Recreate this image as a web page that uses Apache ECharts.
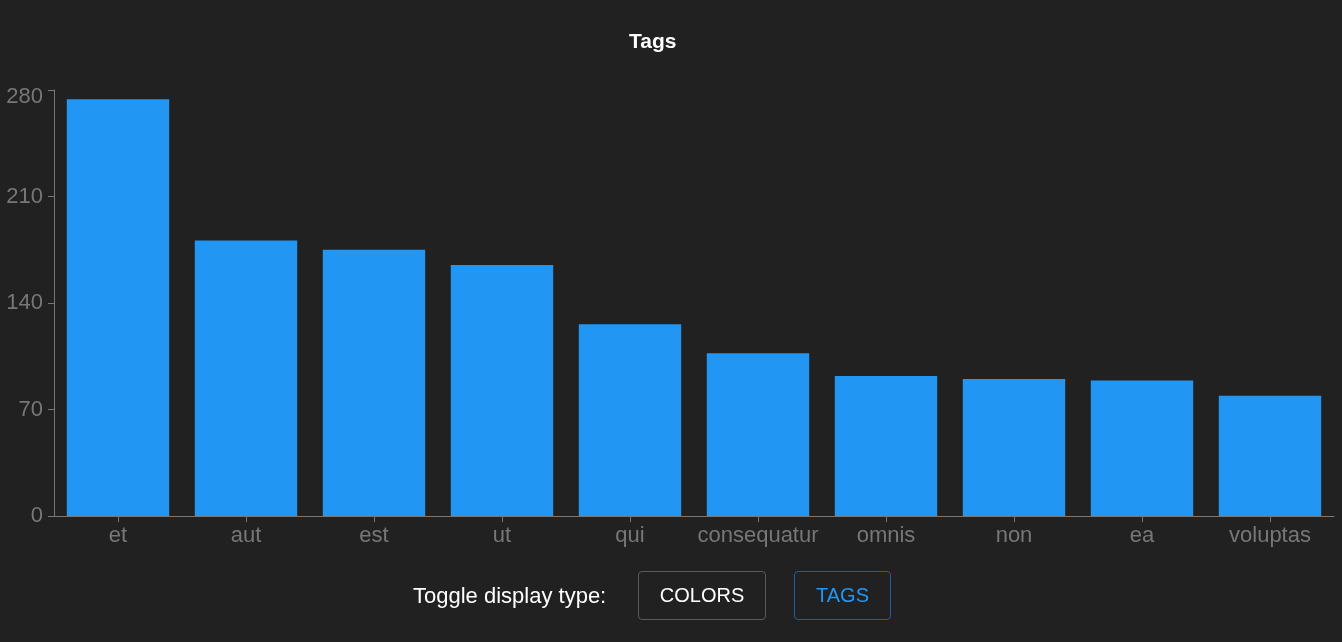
<!DOCTYPE html>
<html>
<head>
<meta charset="utf-8">
<script src="https://cdn.jsdelivr.net/npm/echarts@6/dist/echarts.min.js"></script>
<style>
  html, body { margin: 0; padding: 0; background: #212121; width: 1342px; height: 642px; overflow: hidden; }
  #chart { position: absolute; left: 0; top: 0; width: 1342px; height: 642px; }
  .ctrl { position: absolute; font-family: "Liberation Sans", Arial, sans-serif; }
  #lbl { left: 413px; top: 583px; color: #ffffff; font-size: 22px; line-height: 26px; }
  .btn { box-sizing: border-box; height: 49px; top: 571px; border-radius: 4px; display: flex; align-items: center; justify-content: center; font-size: 20px; }
  #b1 { left: 638px; width: 128px; border: 1px solid #5a5a5a; color: #ffffff; }
  #b2 { left: 794px; width: 97px; border: 1px solid #1d5f98; color: #2196f3; }
</style>
</head>
<body>
<div id="chart"></div>
<div class="ctrl" id="lbl">Toggle display type:</div>
<div class="ctrl btn" id="b1">COLORS</div>
<div class="ctrl btn" id="b2">TAGS</div>
<script>
const categories = ["et", "aut", "est", "ut", "qui", "consequatur", "omnis", "non", "ea", "voluptas"];
const counts = [274, 181, 175, 165, 126, 107, 92, 90, 89, 79];
const yTicks = [0, 70, 140, 210, 280];

const chart = echarts.init(document.getElementById('chart'), null, { renderer: 'canvas' });
const axisGrey = '#777777';
const font = 'Liberation Sans, Arial, sans-serif';
chart.setOption({
  backgroundColor: '#212121',
  animation: false,
  title: {
    text: 'Tags', left: 624, top: 27,
    textStyle: { color: '#ffffff', fontSize: 21, fontWeight: 'bold', fontFamily: font }
  },
  grid: { left: 54, right: 8, top: 90, bottom: 126, containLabel: false },
  xAxis: {
    type: 'category', data: categories,
    axisLine: { show: true, lineStyle: { color: axisGrey, width: 1 } },
    axisTick: { show: true, alignWithLabel: true, length: 6, lineStyle: { color: axisGrey } },
    axisLabel: { color: axisGrey, fontSize: 22, margin: 9, interval: 0, fontFamily: font }
  },
  yAxis: {
    type: 'value', min: 0, max: 280,
    axisLine: { show: true, lineStyle: { color: axisGrey, width: 1 } },
    axisTick: { show: true, length: 6, lineStyle: { color: axisGrey }, customValues: yTicks },
    axisLabel: {
      color: axisGrey, fontSize: 22, margin: 11, fontFamily: font, customValues: yTicks,
      formatter: function (v) { return v === 280 ? '{t|' + v + '}' : String(v); },
      rich: { t: { color: axisGrey, fontSize: 22, fontFamily: font, padding: [14, 0, 0, 0] } }
    },
    splitLine: { show: false }
  },
  series: [{
    type: 'bar', data: counts, barCategoryGap: '20%',
    itemStyle: { color: '#2196f3' }
  }]
});
</script>
</body>
</html>
